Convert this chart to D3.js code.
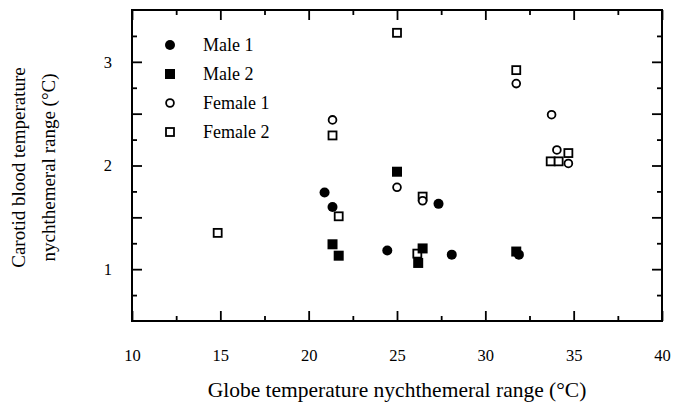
<!DOCTYPE html>
<html lang="en">
<head>
<meta charset="UTF-8">
<title>Carotid blood temperature vs globe temperature</title>
<style>
    body { margin: 0; background: #fff; }
    svg text { font-family: "Liberation Serif", "Times New Roman", serif; fill: #000; }
    .axis path { display: none; }
    .axis line { stroke: #000; stroke-width: 1.8; }
    .axis text { font-size: 16.5px; }
    .xtitle { font-size: 21.5px; }
    .ytitle { font-size: 19px; }
    .legend text { font-size: 18px; }
</style>
</head>
<body>
<div id="chart"></div>
<script src="https://d3js.org/d3.v7.min.js"></script>
<script>
// values
const maleOneX = [20.9, 21.35, 24.45, 27.35, 28.1, 31.9];
const maleOneY = [1.74, 1.60, 1.18, 1.63, 1.14, 1.14];

const maleTwoX = [21.35, 21.7, 25.0, 26.2, 26.45, 31.75];
const maleTwoY = [1.24, 1.13, 1.94, 1.06, 1.20, 1.17];

const femaleOneX = [21.35, 25.0, 26.45, 31.75, 33.75, 34.05, 34.7];
const femaleOneY = [2.44, 1.79, 1.66, 2.79, 2.49, 2.15, 2.02];

const femaleTwoX = [14.85, 21.35, 21.7, 25.0, 26.15, 26.45, 31.75, 33.7, 34.15, 34.7];
const femaleTwoY = [1.35, 2.29, 1.51, 3.28, 1.15, 1.70, 2.92, 2.04, 2.04, 2.12];

const xTicks = [10, 15, 20, 25, 30, 35, 40];
const xMinorTicks = [12.5, 17.5, 22.5, 27.5, 32.5, 37.5];
const yTicks = [1, 2, 3];
const yMajorTicks = [1, 1.5, 2, 2.5, 3];
const yMinorTicks = [0.75, 1.25, 1.75, 2.25, 2.75, 3.25];

const seriesNames = ["Male 1", "Male 2", "Female 1", "Female 2"];

const width = 680, height = 409;
const margin = {top: 10, right: 18, bottom: 88, left: 132};

const svg = d3.select("#chart").append("svg")
    .attr("width", width)
    .attr("height", height);

const x = d3.scaleLinear().domain([10, 40]).range([margin.left, width - margin.right]);
const y = d3.scaleLinear().domain([0.5, 3.5]).range([height - margin.bottom, margin.top]);

const x0 = x.range()[0], x1 = x.range()[1];
const y0 = y.range()[0], y1 = y.range()[1];

// ticks on all four sides, pointing inward
function addAxis(axis, transform) {
    svg.append("g").attr("class", "axis").attr("transform", transform).call(axis)
        .attr("font-family", null).attr("font-size", null);
}
addAxis(d3.axisBottom(x).tickValues(xTicks).tickSizeInner(-10).tickSizeOuter(0).tickPadding(28).tickFormat(d3.format("d")), `translate(0,${y0})`);
addAxis(d3.axisBottom(x).tickValues(xMinorTicks).tickSizeInner(-5).tickSizeOuter(0).tickFormat(""), `translate(0,${y0})`);
addAxis(d3.axisTop(x).tickValues(xTicks).tickSizeInner(-10).tickSizeOuter(0).tickFormat(""), `translate(0,${y1})`);
addAxis(d3.axisTop(x).tickValues(xMinorTicks).tickSizeInner(-5).tickSizeOuter(0).tickFormat(""), `translate(0,${y1})`);

addAxis(d3.axisLeft(y).tickValues(yTicks).tickSize(0).tickPadding(20).tickFormat(d3.format("d")), `translate(${x0},0)`);
addAxis(d3.axisLeft(y).tickValues(yMajorTicks).tickSizeInner(-10).tickSizeOuter(0).tickFormat(""), `translate(${x0},0)`);
addAxis(d3.axisLeft(y).tickValues(yMinorTicks).tickSizeInner(-5).tickSizeOuter(0).tickFormat(""), `translate(${x0},0)`);
addAxis(d3.axisRight(y).tickValues(yMajorTicks).tickSizeInner(-10).tickSizeOuter(0).tickFormat(""), `translate(${x1},0)`);
addAxis(d3.axisRight(y).tickValues(yMinorTicks).tickSizeInner(-5).tickSizeOuter(0).tickFormat(""), `translate(${x1},0)`);

svg.append("rect")
    .attr("x", x0).attr("y", y1)
    .attr("width", x1 - x0).attr("height", y0 - y1)
    .attr("fill", "none").attr("stroke", "#000").attr("stroke-width", 2);

// axis titles
svg.append("text")
    .attr("class", "xtitle")
    .attr("x", (x0 + x1) / 2)
    .attr("y", 397)
    .attr("text-anchor", "middle")
    .text("Globe temperature nychthemeral range (°C)");

const yTitle = svg.append("text")
    .attr("class", "ytitle")
    .attr("transform", `translate(0,${(y0 + y1) / 2 + 2}) rotate(-90)`)
    .attr("text-anchor", "middle");
yTitle.append("tspan").attr("x", 0).attr("y", 25).text("Carotid blood temperature");
yTitle.append("tspan").attr("x", 0).attr("y", 55).text("nychthemeral range (°C)");

// markers
function toPoints(xs, ys) {
    return xs.map((v, i) => ({x: v, y: ys[i]}));
}

function drawCircles(data, filled) {
    svg.append("g").selectAll("circle")
        .data(data)
        .enter()
        .append("circle")
        .attr("cx", d => x(d.x))
        .attr("cy", d => y(d.y))
        .attr("r", filled ? 5 : 3.9)
        .attr("fill", filled ? "#000" : "#fff")
        .attr("stroke", "#000")
        .attr("stroke-width", filled ? 0 : 1.8);
}

function drawSquares(data, filled) {
    const s = filled ? 10 : 8;
    svg.append("g").selectAll("rect")
        .data(data)
        .enter()
        .append("rect")
        .attr("x", d => x(d.x) - s / 2)
        .attr("y", d => y(d.y) - s / 2)
        .attr("width", s)
        .attr("height", s)
        .attr("fill", filled ? "#000" : "#fff")
        .attr("stroke", "#000")
        .attr("stroke-width", filled ? 0 : 1.8);
}

drawCircles(toPoints(maleOneX, maleOneY), true);
drawSquares(toPoints(femaleTwoX, femaleTwoY), false);
drawCircles(toPoints(femaleOneX, femaleOneY), false);
drawSquares(toPoints(maleTwoX, maleTwoY), true);

// legend
const legend = svg.append("g").attr("class", "legend");
seriesNames.forEach((name, i) => {
    const ly = 45 + i * 29;
    const g = legend.append("g").attr("transform", `translate(170,${ly})`);
    if (i === 0) {
        g.append("circle").attr("r", 5).attr("fill", "#000");
    } else if (i === 1) {
        g.append("rect").attr("x", -5).attr("y", -5).attr("width", 10).attr("height", 10).attr("fill", "#000");
    } else if (i === 2) {
        g.append("circle").attr("r", 3.9).attr("fill", "#fff").attr("stroke", "#000").attr("stroke-width", 1.8);
    } else {
        g.append("rect").attr("x", -4).attr("y", -4).attr("width", 8).attr("height", 8)
            .attr("fill", "#fff").attr("stroke", "#000").attr("stroke-width", 1.8);
    }
    g.append("text")
        .attr("x", 33)
        .attr("y", 6)
        .text(name);
});
</script>
</body>
</html>
